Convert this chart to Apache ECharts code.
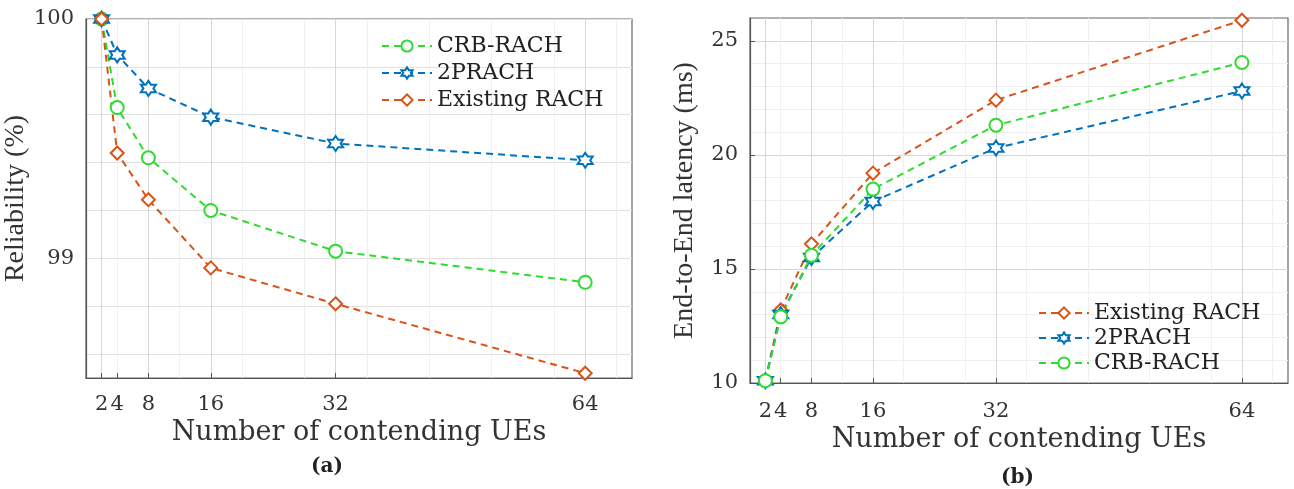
<!DOCTYPE html>
<html>
<head>
<meta charset="utf-8">
<script src="https://cdn.jsdelivr.net/npm/echarts@6/dist/echarts.min.js"></script>
<style>html,body{margin:0;padding:0;background:#fff}#c{width:1294px;height:489px}</style>
</head>
<body>
<div id="c"></div>
<script>
// ---- data ----
const ueCounts = [2, 4, 8, 16, 32, 64];
const xTickValues = [2, 4, 8, 16, 32, 64];
const relCRB = [100, 99.63, 99.42, 99.20, 99.03, 98.90];
const rel2P = [100, 99.85, 99.71, 99.59, 99.48, 99.41];
const relExist = [100, 99.44, 99.245, 98.96, 98.81, 98.52];
const latExist = [10.1, 13.2, 16.1, 19.2, 22.4, 25.9];
const lat2P = [10.1, 13.0, 15.5, 17.96, 20.3, 22.8];
const latCRB = [10.1, 12.9, 15.6, 18.5, 21.3, 24.05];
const relTickLabels = [99, 100];
const relGridValues = [98.6, 98.8, 99, 99.2, 99.4, 99.6, 99.8, 100];
const latTickLabels = [10, 15, 20, 25];

const NAMES = {crb: 'CRB-RACH', p2: '2PRACH', ex: 'Existing RACH'};
const COL = {crb: '#2EDB2E', p2: '#0072BD', ex: '#D95319'};
const HEX = 'path://M10 0 L12.887 5 L18.66 5 L15.77 10 L18.66 15 L12.887 15 L10 20 L7.113 15 L1.34 15 L4.23 10 L1.34 5 L7.113 5 Z';
const SYM = {crb: 'circle', p2: HEX, ex: 'diamond'};
const HFONT = 'DejaVu Serif';
const VFONT = 'Liberation Serif';

function pairs(vals) { return ueCounts.map((x, i) => [x, vals[i]]); }
function mkSeries(key, vals, idx) {
  return {
    name: NAMES[key], type: 'line', xAxisIndex: idx, yAxisIndex: idx,
    data: pairs(vals), symbol: SYM[key], symbolSize: key === 'p2' ? 15 : 13,
    color: COL[key],
    lineStyle: {color: COL[key], width: 2, type: [7, 5]},
    itemStyle: {color: '#ffffff', borderColor: COL[key], borderWidth: 2},
    z: 3
  };
}
function xAx(idx, gap, margin) {
  return {
    type: 'value', gridIndex: idx, min: 0, max: 70, interval: 8,
    name: 'Number of contending UEs', nameLocation: 'middle', nameGap: gap,
    nameTextStyle: {fontFamily: HFONT, fontSize: 27, color: '#333'},
    axisLine: {show: true, lineStyle: {color: '#555', width: 1.2}},
    axisTick: {show: true, inside: true, length: 5, customValues: xTickValues, lineStyle: {color: '#555'}},
    axisLabel: {customValues: xTickValues, fontFamily: HFONT, fontSize: 21, color: '#333', margin: margin},
    splitLine: {show: true, lineStyle: {color: '#d6d6d6', width: 1}},
    minorTick: {show: false, splitNumber: 2},
    minorSplitLine: {show: true, lineStyle: {color: '#f0f0f0', width: 1}}
  };
}

const option = {
  animation: false,
  backgroundColor: '#ffffff',
  grid: [
    {left: 86, top: 19, right: 662, bottom: 111, show: true, borderColor: '#666', borderWidth: 1.2, backgroundColor: 'transparent'},
    {left: 750, top: 18, right: 6, bottom: 106, show: true, borderColor: '#666', borderWidth: 1.2, backgroundColor: 'transparent'}
  ],
  xAxis: [xAx(0, 39, 16), xAx(1, 40, 18)],
  yAxis: [
    {
      type: 'value', gridIndex: 0, min: 98.5, max: 100, interval: 0.5,
      name: 'Reliability (%)', nameLocation: 'middle', nameGap: 45,
      nameTextStyle: {fontFamily: VFONT, fontSize: 28, color: '#333'},
      axisLine: {show: true, lineStyle: {color: '#555', width: 1.2}},
      axisTick: {show: false, customValues: relGridValues},
      axisLabel: {customValues: relTickLabels, fontFamily: HFONT, fontSize: 21, color: '#333', margin: 12},
      splitLine: {show: true, lineStyle: {color: '#e0e0e0', width: 1}}
    },
    {
      type: 'value', gridIndex: 1, min: 10, max: 26, interval: 5,
      name: 'End-to-End latency (ms)', nameLocation: 'middle', nameGap: 51,
      nameTextStyle: {fontFamily: VFONT, fontSize: 28, color: '#333'},
      axisLine: {show: true, lineStyle: {color: '#555', width: 1.2}},
      axisTick: {show: true, inside: true, length: 5, customValues: latTickLabels, lineStyle: {color: '#555'}},
      axisLabel: {customValues: latTickLabels, fontFamily: HFONT, fontSize: 21, color: '#333', margin: 12},
      splitLine: {show: true, lineStyle: {color: '#d6d6d6', width: 1}},
      minorSplitLine: {show: true, lineStyle: {color: '#f0f0f0', width: 1}},
      minorTick: {show: false, splitNumber: 5}
    }
  ],
  legend: [
    {
      data: [NAMES.crb, NAMES.p2, NAMES.ex], orient: 'vertical', left: 376, top: 30,
      itemWidth: 50, itemHeight: 14, itemGap: 5,
      textStyle: {fontFamily: HFONT, fontSize: 22, color: '#222'}
    },
    {
      data: [NAMES.ex, NAMES.p2, NAMES.crb], orient: 'vertical', left: 1033, top: 297,
      itemWidth: 50, itemHeight: 14, itemGap: 3,
      textStyle: {fontFamily: HFONT, fontSize: 22, color: '#222'}
    }
  ],
  graphic: [
    {type: 'text', left: 311, top: 457, style: {text: '(a)', font: 'bold 20px "DejaVu Serif"', fill: '#222'}},
    {type: 'text', left: 1001, top: 468, style: {text: '(b)', font: 'bold 20px "DejaVu Serif"', fill: '#222'}}
  ],
  series: [
    mkSeries('crb', relCRB, 0),
    mkSeries('p2', rel2P, 0),
    mkSeries('ex', relExist, 0),
    mkSeries('ex', latExist, 1),
    mkSeries('p2', lat2P, 1),
    mkSeries('crb', latCRB, 1)
  ]
};
const chart = echarts.init(document.getElementById('c'), null, {renderer: 'canvas'});
chart.setOption(option);
</script>
</body>
</html>
